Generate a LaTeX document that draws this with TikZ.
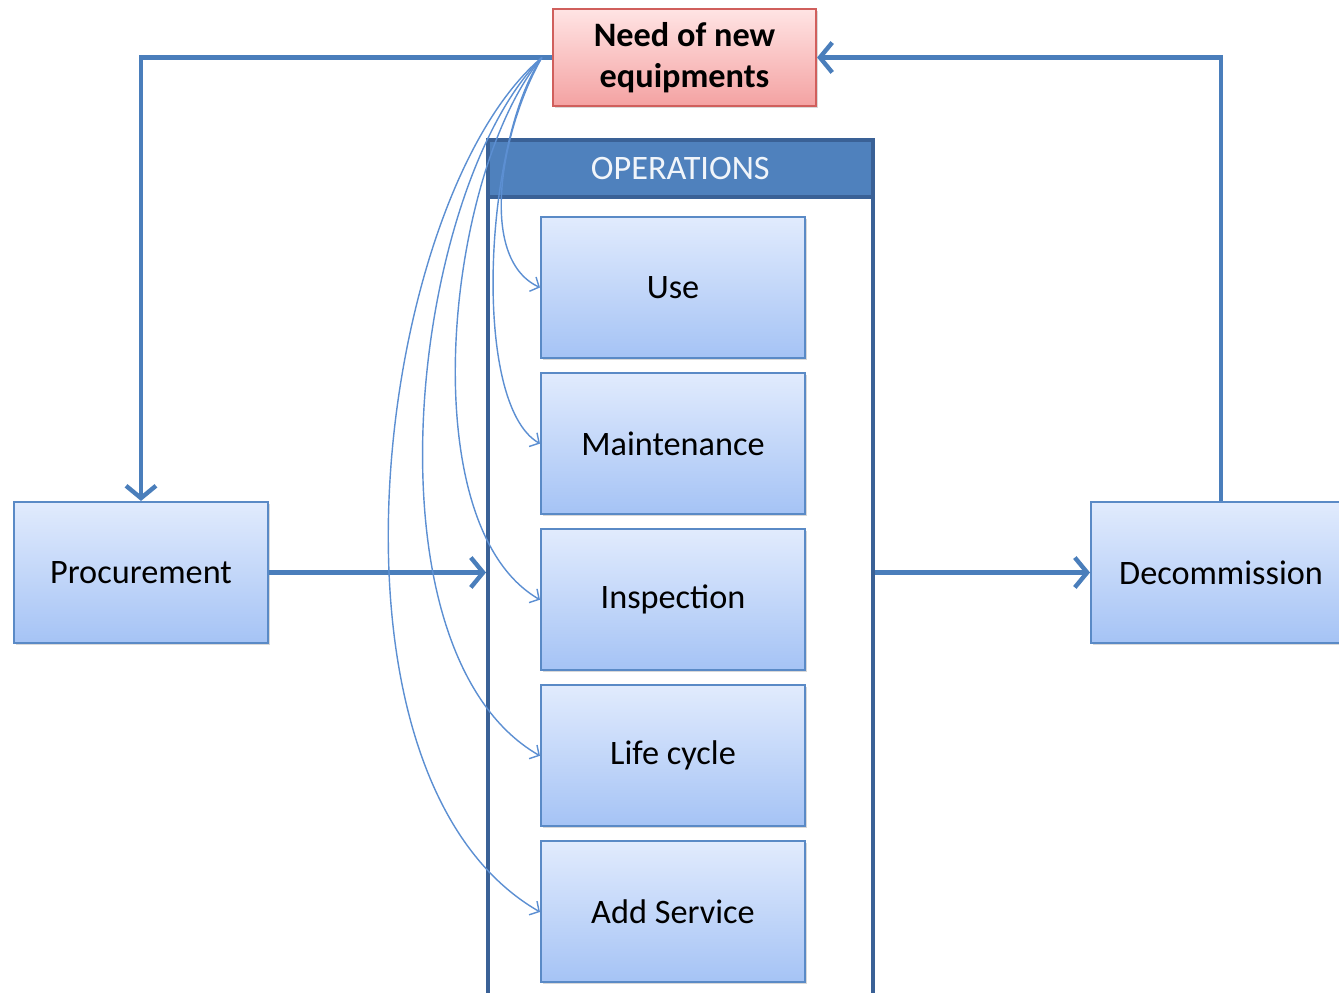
\documentclass[tikz,border=0pt]{standalone}
\usepackage{fontspec}
\setmainfont{Carlito}
\usetikzlibrary{positioning,arrows.meta,shadows}
\definecolor{lineblue}{HTML}{4A7EBB}
\definecolor{edgeblue}{HTML}{5A8AC6}
\definecolor{darkblue}{HTML}{3A6196}
\definecolor{headblue}{HTML}{4F81BD}
\definecolor{feedblue}{HTML}{5C8FD2}
\definecolor{boxtop}{HTML}{E1EBFD}
\definecolor{boxbot}{HTML}{A5C3F5}
\definecolor{needtop}{HTML}{FFE4E4}
\definecolor{needbot}{HTML}{F4A2A2}
\definecolor{neededge}{HTML}{D05F5C}

\begin{document}
\begin{tikzpicture}[font=\fontsize{19.5}{23.3}\selectfont,
	stage/.style={draw=edgeblue,line width=1.2pt,top color=boxtop,bottom color=boxbot,
		minimum width=5.08cm,minimum height=2.82cm,inner sep=0pt,
		drop shadow={shadow xshift=1pt,shadow yshift=-1pt,opacity=0.3}},
	opsbox/.style={draw=darkblue,line width=2pt,fill=white,anchor=north west,
		minimum width=7.7cm,minimum height=17.6cm,inner sep=0pt},
	opshead/.style={draw=darkblue,line width=2pt,fill=headblue,text=white!92!headblue,
		minimum width=7.7cm,minimum height=1.14cm,anchor=north,inner sep=0pt},
	flow/.style={draw=lineblue,line width=2.5pt,-{Straight Barb[length=7pt,width=17pt]}},
	feed/.style={draw=feedblue,line width=0.8pt,-{Straight Barb[length=4pt,width=9pt]}}]
	\useasboundingbox (0,0) rectangle (26.78,-19.86);
	\node[draw=neededge,line width=1.2pt,top color=needtop,bottom color=needbot,
		minimum width=5.26cm,minimum height=1.94cm,align=center,font=\fontsize{19.5}{23.3}\selectfont\bfseries,
		drop shadow={shadow xshift=1pt,shadow yshift=-1pt,opacity=0.3}] (need) at (13.69,-1.15)
		{Need of new\\equipments};
	\node[opsbox] (ops) at (9.72,-2.76) {};
	\node[opshead] (opstitle) at (ops.north) {OPERATIONS};
	\node[stage,minimum width=5.28cm] (use) at (13.46,-5.75) {Use};
	\node[stage,minimum width=5.28cm,below=0.26cm of use] (maint) {Maintenance};
	\node[stage,minimum width=5.28cm,below=0.26cm of maint] (insp) {Inspection};
	\node[stage,minimum width=5.28cm,below=0.26cm of insp] (life) {Life cycle};
	\node[stage,minimum width=5.28cm,below=0.26cm of life] (adds) {Add Service};
	\node[stage] (proc) at (2.82,-11.45) {Procurement};
	\node[stage,minimum width=5.2cm,anchor=west] (decom) at (21.8,-11.45) {Decommission};
	\draw[flow] (need.west) -| (proc.north);
	\draw[flow] (decom.north) |- (need.east);
	\draw[flow] (proc.east) -- (proc.east -| ops.west);
	\draw[flow] (decom.west -| ops.east) -- (decom.west);
	\foreach \T/\O/\I/\A/\B in {use/240/155/1.6/1.4, maint/235/150/2/1.6, insp/230/150/3/3,
		life/225/150/3.7/4.2, adds/220/150/4.3/5.5}
		\draw[feed] ([xshift=-0.2cm]need.west) to[out=\O,in=\I,out distance=\A cm,in distance=\B cm] (\T.west);
\end{tikzpicture}
\end{document}
